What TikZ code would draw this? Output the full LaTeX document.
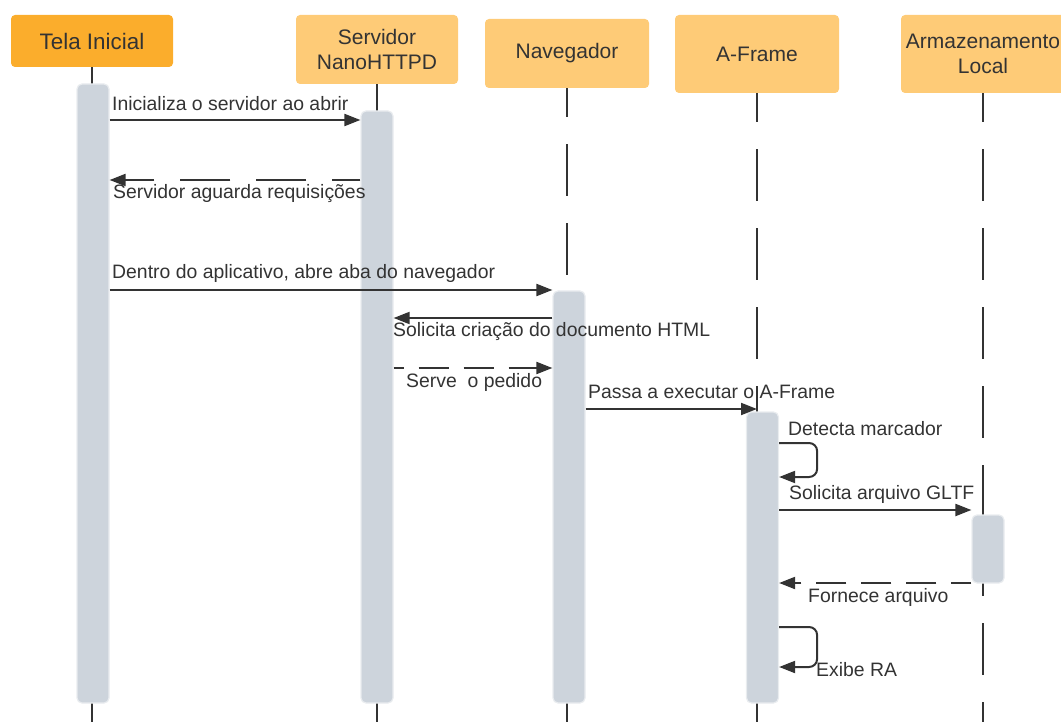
\documentclass[tikz,border=0pt]{standalone}
\usepackage{fontspec}
\setmainfont{Liberation Sans}
\usetikzlibrary{arrows.meta}
\definecolor{ink}{HTML}{333333}
\definecolor{hdrdark}{HTML}{FBAD2C}
\definecolor{hdr}{HTML}{FECB77}
\definecolor{actfill}{HTML}{CDD4DC}
\definecolor{actline}{HTML}{E9ECEF}
\begin{document}
\begin{tikzpicture}[x=1pt,y=-1pt,
  header/.style={rounded corners=4pt, inner sep=0pt, text=ink, align=center,
    font=\fontsize{21}{25}\selectfont, fill=hdr},
  act/.style={rounded corners=5pt, fill=actfill, draw=actline, line width=1.2pt,
    inner sep=0pt, minimum width=32pt},
  life/.style={draw=ink, line width=2.4pt, dash pattern=on 52pt off 27pt},
  msg/.style={draw=ink, line width=2pt, -{Triangle[length=16pt,width=12pt]}},
  msgdash/.style={msg, dash pattern=on 30pt off 15pt},
  lbl/.style={text=ink, font=\fontsize{19.4}{22}\selectfont, inner sep=0pt, anchor=base west},
]
\useasboundingbox (0,0) rectangle (1061,722);

% headers
\node[header, fill=hdrdark, minimum width=162pt, minimum height=52pt,
  font=\fontsize{22.4}{27}\selectfont] (hT) at (92,41) {Tela Inicial};
\node[header, minimum width=162pt, minimum height=69pt] (hS) at (377,49.5) {Servidor\\NanoHTTPD};
\node[header, minimum width=164pt, minimum height=69pt] (hN) at (567,53.5) {Navegador};
\node[header, minimum width=164pt, minimum height=78pt] (hA) at (757,54) {A-Frame};
\node[header, minimum width=164pt, minimum height=78pt] (hL) at (983,54) {Armazenamento\\Local};

\coordinate (bot) at (0,722);

% lifelines
\draw[life, dash phase=0pt] (hT.south) -- (hT.south |- bot);
\draw[life, dash phase=14pt] (hS.south) -- (hS.south |- bot);
\draw[life, dash phase=23pt] (hN.south) -- (hN.south |- bot);
\draw[life, dash phase=23pt] (hA.south) -- (hA.south |- bot);
\draw[life, dash phase=23pt] (hL.south) -- (hL.south |- bot);

% activations
\node[act, minimum height=619pt] (a1) at (93,393.5) {};
\node[act, minimum height=592pt] (a2) at (377,407) {};
\node[act, minimum height=412pt] (a3) at (569,497) {};
\node[act, minimum height=291pt] (a4) at (762.5,557.5) {};
\node[act, minimum height=68pt] (a5) at (988,549) {};

% message levels
\coordinate (y1) at (0,120);
\coordinate (y2) at (0,180);
\coordinate (y3) at (0,290);
\coordinate (y4) at (0,318);
\coordinate (y5) at (0,368);
\coordinate (y6) at (0,409);
\coordinate (y7a) at (0,443);
\coordinate (y7b) at (0,477);
\coordinate (y8) at (0,510);
\coordinate (y9) at (0,583);
\coordinate (y10a) at (0,627);
\coordinate (y10b) at (0,667);

% messages
\draw[msg] (a1.east |- y1) -- (a2.west |- y1);
\draw[msg, dash pattern=on 50pt off 26pt, dash phase=22pt] (a2.west |- y2) -- (a1.east |- y2);
\draw[msg] (a1.east |- y3) -- (a3.west |- y3);
\draw[msg] (a3.west |- y4) -- (a2.east |- y4);
\draw[msgdash, dash phase=20pt] (a2.east |- y5) -- (a3.west |- y5);
\draw[msg] (a3.east |- y6) -- (hA.south |- y6);
\draw[msg, rounded corners=8pt] (a4.east |- y7a) -- ([xshift=38pt]a4.east |- y7a)
  -- ([xshift=38pt]a4.east |- y7b) -- (a4.east |- y7b);
\draw[msg] (a4.east |- y8) -- (a5.west |- y8);
\draw[msgdash, dash phase=10pt] (a5.west |- y9) -- (a4.east |- y9);
\draw[msg, rounded corners=8pt] (a4.east |- y10a) -- ([xshift=38pt]a4.east |- y10a)
  -- ([xshift=38pt]a4.east |- y10b) -- (a4.east |- y10b);

% labels
\node[lbl] (l1) at (112,111) {Inicializa o servidor ao abrir};
\node[lbl] (l2) at (113,199) {Servidor aguarda requisições};
\node[lbl] (l3) at (112,279) {Dentro do aplicativo, abre aba do navegador};
\node[lbl] (l4) at (393,337) {Solicita criação do documento HTML};
\node[lbl] (l5) at (406,387) {Serve\ \ o pedido};
\node[lbl] (l6) at (588,398) {Passa a executar o A-Frame};
\node[lbl] (l7) at (788,435) {Detecta marcador};
\node[lbl] (l8) at (789,499) {Solicita arquivo GLTF};
\node[lbl] (l9) at (808,602) {Fornece arquivo};
\node[lbl] (l10) at (816,676) {Exibe RA};
\end{tikzpicture}
\end{document}
